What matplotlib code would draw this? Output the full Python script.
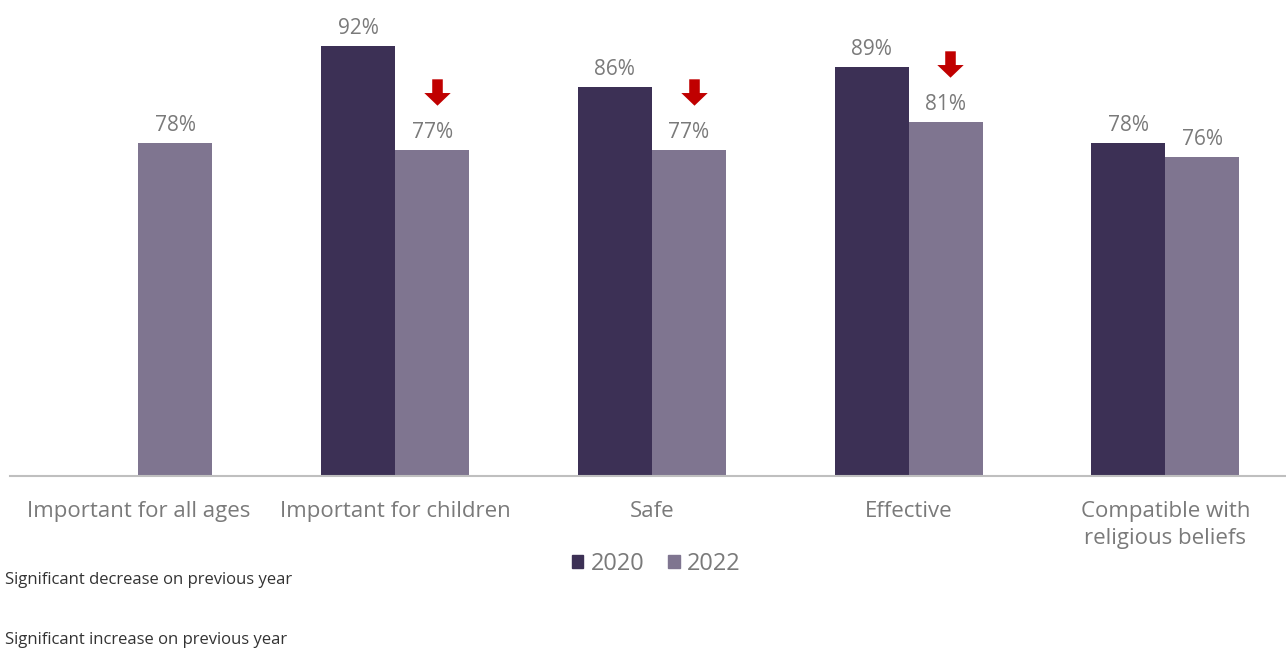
import matplotlib
matplotlib.use("Agg")
import matplotlib.pyplot as plt
import numpy as np
from matplotlib.path import Path
from matplotlib.transforms import offset_copy

plt.rcParams['font.family'] = ['Open Sans', 'DejaVu Sans']

categories = ["Important for all ages", "Important for children", "Safe",
              "Effective", "Compatible with\nreligious beliefs"]
years = ["2020", "2022"]
vals_2020 = [None, 92, 86, 89, 78]
vals_2022 = [78, 77, 77, 81, 76]
# 2022 values flagged as a significant drop on the previous year
sig_decrease = [False, True, True, True, False]

c2020 = "#3c3055"
c2022 = "#7f7590"
label_col = "#7a7a7a"

fig = plt.figure(figsize=(12.86, 6.51), dpi=100)
ax = fig.add_axes([10 / 1286, 175 / 651, 1276 / 1286, 476 / 651])

x = np.arange(len(categories))
w = 0.288

for i, v in enumerate(vals_2020):
    if v is None:
        continue
    ax.bar(x[i] - w / 2, v - 30, w, bottom=30, color=c2020)
    ax.annotate(f"{v}%", (x[i] - w / 2, v), xytext=(0, 5), textcoords="offset points",
                ha="center", va="bottom", fontsize=15, color=label_col)

for i, v in enumerate(vals_2022):
    ax.bar(x[i] + w / 2, v - 30, w, bottom=30, color=c2022)
    ax.annotate(f"{v}%", (x[i] + w / 2, v), xytext=(0, 5), textcoords="offset points",
                ha="center", va="bottom", fontsize=15, color=label_col)

# red down arrow marker, centred on the origin
arrow = Path([(-0.2, 0.5), (0.2, 0.5), (0.2, -0.02), (0.5, -0.02), (0.0, -0.5),
              (-0.5, -0.02), (-0.2, -0.02), (-0.2, 0.5)], closed=True)
arrow_tr = offset_copy(ax.transData, fig=fig, x=3.5, y=42, units="points")
for i, flag in enumerate(sig_decrease):
    if flag:
        ax.plot(x[i] + w / 2, vals_2022[i], marker=arrow, markersize=19, mew=0,
                color="#c00000", transform=arrow_tr, clip_on=False)

ax.set_xlim(-0.5, 4.47)
ax.set_ylim(30, 98.6)
ax.set_xticks(x)
ax.set_xticklabels(categories, fontsize=16, color=label_col, linespacing=1.35)
ax.tick_params(axis="x", length=0, pad=18)
ax.set_yticks([])
for s in ["top", "right", "left"]:
    ax.spines[s].set_visible(False)
ax.spines["bottom"].set_color("#bfbfbf")
ax.spines["bottom"].set_linewidth(1.5)

handles = [plt.Rectangle((0, 0), 1, 1, color=c2020), plt.Rectangle((0, 0), 1, 1, color=c2022)]
leg = fig.legend(handles, years, loc="center", bbox_to_anchor=(656 / 1286, 1 - 564 / 651),
                 ncol=2, frameon=False, fontsize=17, handlelength=0.5, handleheight=0.5,
                 handletextpad=0.3, columnspacing=1.0)
for t in leg.get_texts():
    t.set_color(label_col)

fig.text(5 / 1286, 1 - 580 / 651, "Significant decrease on previous year",
         fontsize=12, color="#333333", va="center")
fig.text(5 / 1286, 1 - 640 / 651, "Significant increase on previous year",
         fontsize=12, color="#333333", va="center")

fig.savefig("out.png", dpi=100)
